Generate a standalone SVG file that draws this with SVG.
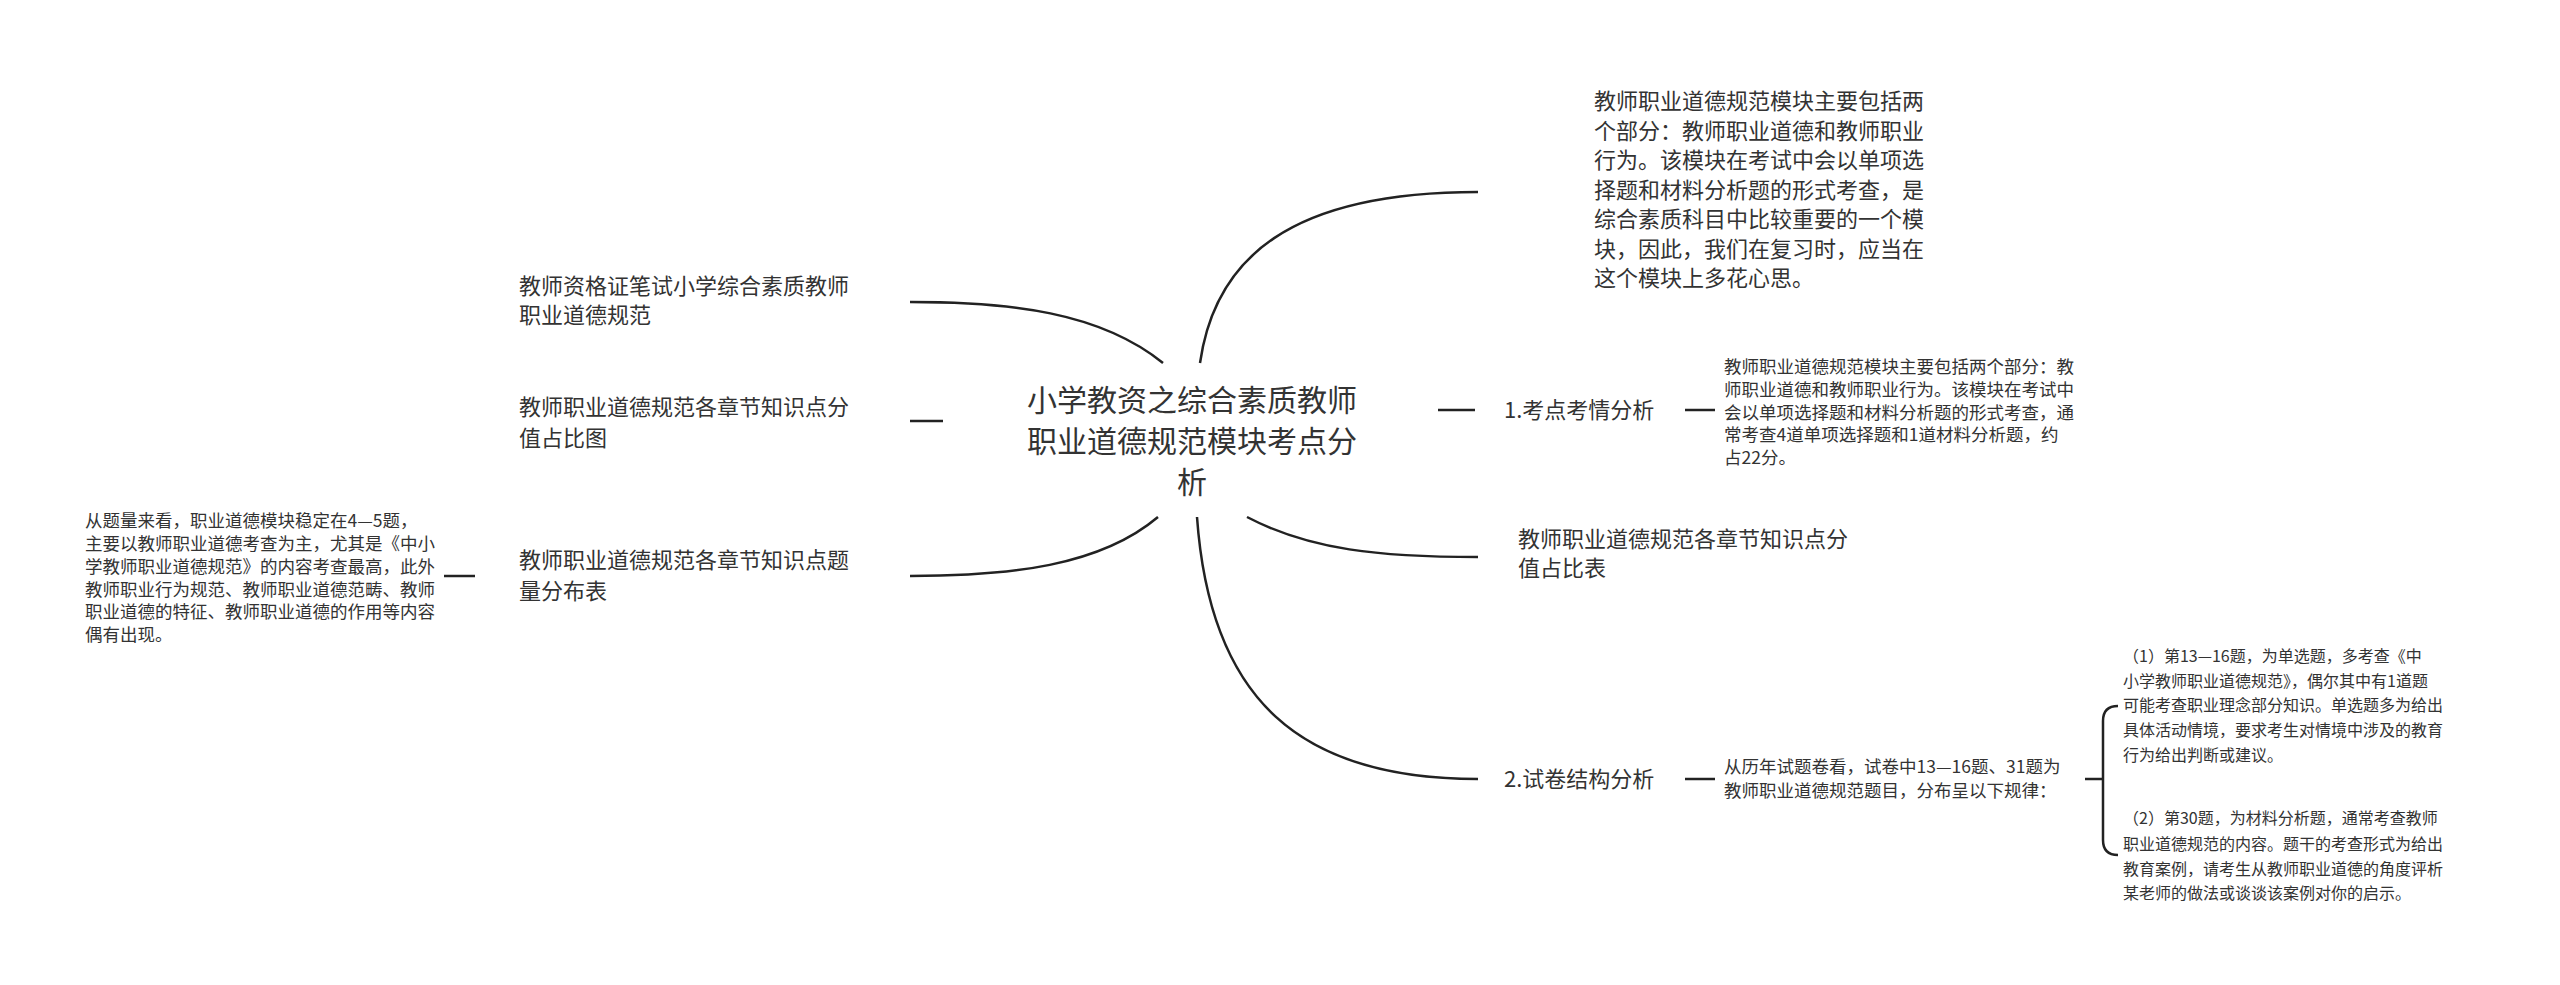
<svg xmlns="http://www.w3.org/2000/svg" width="2560" height="985" viewBox="0 0 2560 985">
<style>
text{font-family:"Noto Sans CJK SC","Noto Sans",sans-serif;fill:#333}
.c{font-size:30px}
.m{font-size:22px}
.s{font-size:17.5px}
.b{font-size:16px}
.ln{fill:none;stroke:#222;stroke-width:2.5;stroke-linecap:butt}
</style>
<rect width="2560" height="985" fill="#fff"/>
<g id="connectors">
<path class="ln" d="M1163,363 C1100,312 1010,302 910,302"/>
<path class="ln" d="M910,421 L943,421"/>
<path class="ln" d="M1158,517 C1100,566 1010,576 910,576"/>
<path class="ln" d="M444,576 L475,576"/>
<path class="ln" d="M1200,363 C1215,258 1290,192 1478,192"/>
<path class="ln" d="M1438,410 L1475,410"/>
<path class="ln" d="M1685,410 L1715,410"/>
<path class="ln" d="M1247,517 C1310,550 1380,557 1478,557"/>
<path class="ln" d="M1197,517 C1210,700 1300,779 1478,779"/>
<path class="ln" d="M1685,779 L1715,779"/>
<path class="ln" d="M2085,779 L2103,779"/>
<path class="ln" d="M2118,706 Q2103,706 2103,721 L2103,840 Q2103,855 2118,855"/>
</g>
<g id="root">
<text class="c" text-anchor="middle"><tspan x="1192" y="411">小学教资之综合素质教师</tspan><tspan x="1192" y="452">职业道德规范模块考点分</tspan><tspan x="1192" y="493">析</tspan></text>
</g>
<g id="n-left1">
<text class="m"><tspan x="519" y="294">教师资格证笔试小学综合素质教师</tspan><tspan x="519" y="323">职业道德规范</tspan></text>
</g>
<g id="n-left2">
<text class="m"><tspan x="519" y="415">教师职业道德规范各章节知识点分</tspan><tspan x="519" y="446">值占比图</tspan></text>
</g>
<g id="n-left3">
<text class="m"><tspan x="519" y="568">教师职业道德规范各章节知识点题</tspan><tspan x="519" y="599">量分布表</tspan></text>
</g>
<g id="n-left3-leaf">
<text class="s"><tspan x="85" y="527">从题量来看，职业道德模块稳定在4—5题，</tspan><tspan x="85" y="550">主要以教师职业道德考查为主，尤其是《中小</tspan><tspan x="85" y="573">学教师职业道德规范》的内容考查最高，此外</tspan><tspan x="85" y="596">教师职业行为规范、教师职业道德范畴、教师</tspan><tspan x="85" y="618">职业道德的特征、教师职业道德的作用等内容</tspan><tspan x="85" y="641">偶有出现。</tspan></text>
</g>
<g id="n-right-top">
<text class="m"><tspan x="1594" y="109">教师职业道德规范模块主要包括两</tspan><tspan x="1594" y="138.5">个部分：教师职业道德和教师职业</tspan><tspan x="1594" y="168">行为。该模块在考试中会以单项选</tspan><tspan x="1594" y="197.5">择题和材料分析题的形式考查，是</tspan><tspan x="1594" y="227">综合素质科目中比较重要的一个模</tspan><tspan x="1594" y="256.5">块，因此，我们在复习时，应当在</tspan><tspan x="1594" y="286">这个模块上多花心思。</tspan></text>
</g>
<g id="n-right1">
<text class="m" x="1504" y="418">1.考点考情分析</text>
</g>
<g id="n-right1-leaf">
<text class="s"><tspan x="1724" y="372.5">教师职业道德规范模块主要包括两个部分：教</tspan><tspan x="1724" y="395.5">师职业道德和教师职业行为。该模块在考试中</tspan><tspan x="1724" y="418.5">会以单项选择题和材料分析题的形式考查，通</tspan><tspan x="1724" y="440.5">常考查4道单项选择题和1道材料分析题，约</tspan><tspan x="1724" y="463.5">占22分。</tspan></text>
</g>
<g id="n-right2">
<text class="m"><tspan x="1518" y="547">教师职业道德规范各章节知识点分</tspan><tspan x="1518" y="576">值占比表</tspan></text>
</g>
<g id="n-right3">
<text class="m" x="1504" y="787">2.试卷结构分析</text>
</g>
<g id="n-right3-leaf">
<text class="s"><tspan x="1724" y="772.5">从历年试题卷看，试卷中13—16题、31题为</tspan><tspan x="1724" y="796.5">教师职业道德规范题目，分布呈以下规律：</tspan></text>
</g>
<g id="n-rule1">
<text class="b"><tspan x="2123" y="662">（1）第13—16题，为单选题，多考查《中</tspan><tspan x="2123" y="687">小学教师职业道德规范》，偶尔其中有1道题</tspan><tspan x="2123" y="711">可能考查职业理念部分知识。单选题多为给出</tspan><tspan x="2123" y="736">具体活动情境，要求考生对情境中涉及的教育</tspan><tspan x="2123" y="761">行为给出判断或建议。</tspan></text>
</g>
<g id="n-rule2">
<text class="b"><tspan x="2123" y="824">（2）第30题，为材料分析题，通常考查教师</tspan><tspan x="2123" y="850">职业道德规范的内容。题干的考查形式为给出</tspan><tspan x="2123" y="875">教育案例，请考生从教师职业道德的角度评析</tspan><tspan x="2123" y="899">某老师的做法或谈谈该案例对你的启示。</tspan></text>
</g>
</svg>
